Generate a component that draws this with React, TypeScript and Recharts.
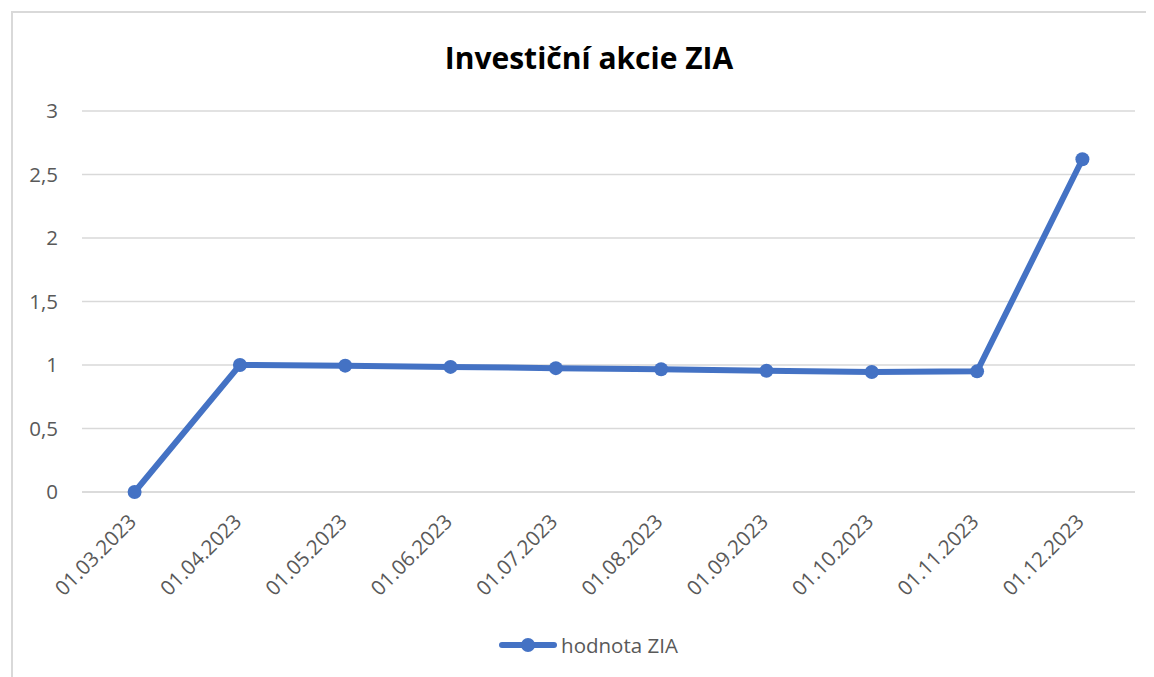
import React from "react";
import { LineChart, Line, XAxis, YAxis, CartesianGrid, Legend } from "recharts";

const categories = [
  "01.03.2023",
  "01.04.2023",
  "01.05.2023",
  "01.06.2023",
  "01.07.2023",
  "01.08.2023",
  "01.09.2023",
  "01.10.2023",
  "01.11.2023",
  "01.12.2023",
];
const values = [0, 1.0, 0.995, 0.985, 0.975, 0.967, 0.955, 0.945, 0.95, 2.62];
const yTicks = [0, 0.5, 1, 1.5, 2, 2.5, 3];
const seriesName = "hodnota ZIA";
const title = "Investiční akcie ZIA";

const data = categories.map((c, i) => ({ date: c, value: values[i] }));

const FONT = "'Open Sans', 'Noto Sans', sans-serif";
const BLUE = "#4472C4";
const GRAY_TEXT = "#595959";
const GRID = "#d9d9d9";

const XTick = (props: any) => {
  const { x, y, payload } = props;
  const tx = x + 3;
  const ty = y + 23;
  return (
    <text
      x={tx}
      y={ty}
      transform={`rotate(-45, ${tx}, ${ty})`}
      textAnchor="end"
      fontSize={20.5}
      fontFamily={FONT}
      fill={GRAY_TEXT}
    >
      {payload.value}
    </text>
  );
};

const LegendContent = () => (
  <div
    style={{
      height: 30,
      display: "flex",
      alignItems: "center",
      justifyContent: "center",
      paddingLeft: 30,
      fontFamily: FONT,
      fontSize: 20.5,
      color: GRAY_TEXT,
    }}
  >
    <svg width={58} height={16} style={{ marginRight: 4 }}>
      <line x1={3} y1={8} x2={55} y2={8} stroke={BLUE} strokeWidth={6} strokeLinecap="round" />
      <circle cx={29} cy={8} r={7} fill={BLUE} />
    </svg>
    <span>{seriesName}</span>
  </div>
);

export default function App() {
  return (
    <div style={{ position: "relative", width: 1146, height: 669 }}>
      <div
        style={{
          position: "absolute",
          left: 3,
          top: 3,
          width: 1200,
          height: 700,
          borderTop: `2px solid ${GRID}`,
          borderLeft: `2px solid ${GRID}`,
          boxSizing: "border-box",
        }}
      />
      <div
        style={{
          position: "absolute",
          left: 0,
          width: 1162,
          top: 30,
          textAlign: "center",
          fontFamily: FONT,
          fontWeight: 700,
          fontSize: 30,
          color: "#000",
          lineHeight: "40px",
        }}
      >
        {title}
      </div>
      <LineChart
        width={1146}
        height={669}
        data={data}
        margin={{ top: 103, right: 19, bottom: 17, left: 4 }}
        style={{ position: "absolute", left: 0, top: 0 }}
      >
        <CartesianGrid vertical={false} stroke={GRID} strokeWidth={1.5} />
        <XAxis
          dataKey="date"
          height={138}
          interval={0}
          padding={{ left: 52.6, right: 52.6 }}
          tick={<XTick />}
          tickLine={false}
          axisLine={{ stroke: GRID, strokeWidth: 1.5 }}
        />
        <YAxis
          width={70}
          domain={[0, 3]}
          ticks={yTicks}
          interval={0}
          tickLine={false}
          axisLine={false}
          tickSize={0}
          tickMargin={24}
          tickFormatter={(v: number) => String(v).replace(".", ",")}
          tick={{ fontSize: 20.5, fontFamily: FONT, fill: GRAY_TEXT }}
        />
        <Legend verticalAlign="bottom" align="center" content={<LegendContent />} />
        <Line
          type="linear"
          dataKey="value"
          name={seriesName}
          stroke={BLUE}
          strokeWidth={6}
          dot={{ r: 7, fill: BLUE, stroke: BLUE, strokeWidth: 0 }}
          activeDot={false}
          isAnimationActive={false}
        />
      </LineChart>
    </div>
  );
}
